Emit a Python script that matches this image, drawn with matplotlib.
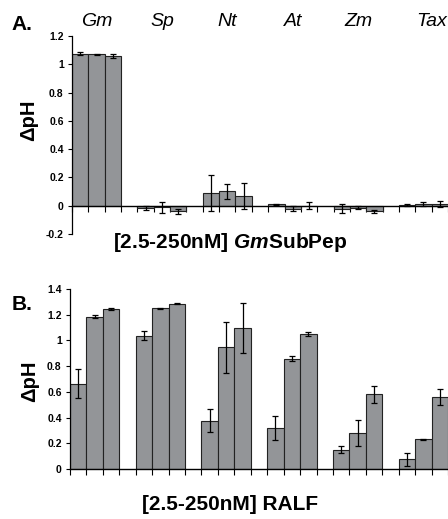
import numpy as np
import matplotlib
matplotlib.use('Agg')
import matplotlib.pyplot as plt
from matplotlib.ticker import FuncFormatter

plt.rcParams['font.family'] = 'Liberation Sans'
plt.rcParams['mathtext.fontset'] = 'custom'
plt.rcParams['mathtext.it'] = 'Liberation Sans:style=italic:weight=bold'
plt.rcParams['mathtext.rm'] = 'Liberation Sans:weight=bold'

# species groups, three concentrations (2.5, 25, 250 nM) each
species = ['Gm', 'Sp', 'Nt', 'At', 'Zm', 'Tax']

subpep_mean = [[1.075, 1.07, 1.06], [-0.016, -0.012, -0.04], [0.092, 0.104, 0.07],
               [0.01, -0.02, 0.0], [-0.02, -0.014, -0.04], [0.003, 0.01, 0.012]]
subpep_err = [[0.012, 0.005, 0.016], [0.015, 0.04, 0.018], [0.127, 0.053, 0.094],
              [0.003, 0.02, 0.025], [0.03, 0.012, 0.012], [0.008, 0.014, 0.018]]

ralf_mean = [[0.665, 1.185, 1.245], [1.036, 1.25, 1.285], [0.377, 0.946, 1.098],
             [0.318, 0.858, 1.05], [0.151, 0.282, 0.582], [0.077, 0.233, 0.561]]
ralf_err = [[0.11, 0.01, 0.01], [0.035, 0.003, 0.003], [0.093, 0.2, 0.195],
            [0.093, 0.02, 0.018], [0.026, 0.1, 0.065], [0.05, 0.004, 0.06]]

bar_color = '#939598'


def draw_panel(ax, means, errs, ylim, yticks):
    for g in range(len(species)):
        x = 4 * g + np.arange(3) + 0.5
        ax.bar(x, means[g], width=1.0, color=bar_color, edgecolor='#222222',
               linewidth=0.8, zorder=2)
        ax.errorbar(x, means[g], yerr=errs[g], fmt='none', ecolor='black',
                    elinewidth=0.9, capsize=2.5, capthick=0.9, zorder=3)
    ax.set_xlim(0, 23)
    ax.set_ylim(*ylim)
    ax.set_yticks(yticks)
    ax.yaxis.set_major_formatter(FuncFormatter(lambda v, _: f'{v:g}'))
    ax.set_xticks(np.arange(0, 24))
    ax.set_xticklabels([])
    ax.spines['top'].set_visible(False)
    ax.spines['right'].set_visible(False)
    ax.spines['bottom'].set_position(('data', 0))
    ax.spines['left'].set_linewidth(0.9)
    ax.spines['bottom'].set_linewidth(1.0)
    ax.tick_params(axis='y', length=3, width=0.8, labelsize=7.5, pad=3)
    ax.tick_params(axis='x', length=4, width=0.8, direction='out')
    for lab in ax.get_yticklabels():
        lab.set_fontweight('bold')


fig = plt.figure(figsize=(4.48, 5.19), dpi=100)

axA = fig.add_axes([72 / 448, 1 - 234 / 519, 376 / 448, 198 / 519])
draw_panel(axA, subpep_mean, subpep_err, (-0.2, 1.2),
           [-0.2, 0, 0.2, 0.4, 0.6, 0.8, 1, 1.2])

axB = fig.add_axes([70 / 448, 1 - 469 / 519, 378 / 448, 180 / 519])
draw_panel(axB, ralf_mean, ralf_err, (0, 1.4),
           [0, 0.2, 0.4, 0.6, 0.8, 1, 1.2, 1.4])

# species names over panel A (last one pushed to the right edge)
for g, name in enumerate(species):
    if name == 'Tax':
        fig.text(447 / 448, 1 - 21 / 519, name, style='italic', fontsize=14,
                 ha='right', va='center')
        continue
    xc = 4 * g + 1.5
    xf = fig.transFigure.inverted().transform(axA.transData.transform((xc, 0)))[0]
    fig.text(xf, 1 - 21 / 519, name, style='italic', fontsize=14,
             ha='center', va='center')

fig.text(22 / 448, 1 - 24 / 519, 'A.', fontsize=15, fontweight='bold',
         ha='center', va='center')
fig.text(22 / 448, 1 - 305 / 519, 'B.', fontsize=15, fontweight='bold',
         ha='center', va='center')

fig.text(29 / 448, 1 - 120 / 519, '\u0394pH', fontsize=14.5, fontweight='bold',
         rotation=90, ha='center', va='center')
fig.text(30 / 448, 1 - 381 / 519, '\u0394pH', fontsize=14.5, fontweight='bold',
         rotation=90, ha='center', va='center')

fig.text(230 / 448, 1 - 242 / 519, r'[2.5-250nM] $\mathit{Gm}$SubPep',
         fontsize=15, fontweight='bold', ha='center', va='center')
fig.text(230 / 448, 1 - 505 / 519, '[2.5-250nM] RALF',
         fontsize=15, fontweight='bold', ha='center', va='center')

fig.savefig('out.png', dpi=100)
